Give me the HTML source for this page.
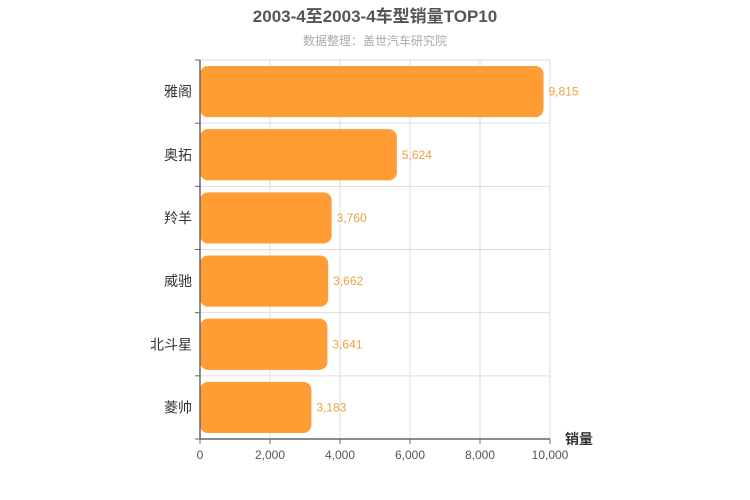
<!DOCTYPE html>
<html><head><meta charset="utf-8"><style>
body{margin:0;background:#fff;}
svg{display:block;font-family:"Liberation Sans","Noto Sans CJK SC",sans-serif;}
</style></head><body>
<svg id="chart" width="750" height="500">
<text x="375" y="22" text-anchor="middle" font-size="17" font-weight="bold" fill="#555">2003-4至2003-4车型销量TOP10</text>
<text x="375" y="45" text-anchor="middle" font-size="12" fill="#aaa">数据整理：盖世汽车研究院</text>
<g id="grid"></g><g id="bars"></g><g id="axes"></g>
</svg>
<script>
const categories=["雅阁","奥拓","羚羊","威驰","北斗星","菱帅"];
const values=[9815,5624,3760,3662,3641,3183];
const ticks=[0,2000,4000,6000,8000,10000];
const tickLabels=["0","2,000","4,000","6,000","8,000","10,000"];
const X0=200,X1=550,Y0=60,Y1=439,MAX=10000;
const ns="http://www.w3.org/2000/svg";
const xs=v=>X0+(X1-X0)*v/MAX;
const band=(Y1-Y0)/categories.length;
function mk(tag,attrs,parent,text){const e=document.createElementNS(ns,tag);for(const k in attrs)e.setAttribute(k,attrs[k]);if(text!==undefined)e.textContent=text;document.getElementById(parent).appendChild(e);return e;}
ticks.forEach((t,i)=>{
  const g=mk("line",{x1:xs(t),x2:xs(t),y1:Y0,y2:Y1,stroke:"#ddd"},"grid");
  
  
  const tk=mk("line",{x1:xs(t),x2:xs(t),y1:Y1,y2:Y1+5,stroke:"#666"},"axes");
  
  
  const l=mk("text",{x:xs(t),y:Y1+20,"text-anchor":"middle","font-size":12,fill:"#555"},"axes",tickLabels[i]);
  
  
});
for(let i=0;i<=categories.length;i++){
  const y=Y0+band*i;
  const g=mk("line",{x1:X0,x2:X1,y1:y,y2:y,stroke:"#ddd"},"grid");
  
  
  const tk=mk("line",{x1:X0-5,x2:X0,y1:y,y2:y,stroke:"#666"},"axes");
  
  
}
categories.forEach((c,i)=>{
  const y=Y0+band*i+6,h=band-12;
  const b=mk("rect",{x:X0,y:y,width:xs(values[i])-X0,height:h,rx:8,fill:"#ff9c33"},"bars");
  
  
  const v=mk("text",{x:xs(values[i])+5,y:y+h/2+4,"font-size":12,fill:"#f0a040"},"bars",values[i].toLocaleString("en-US"));
  
  
  const l=mk("text",{x:X0-8,y:y+h/2+5,"text-anchor":"end","font-size":14,fill:"#333"},"axes",c);
  
  
});
const ya=mk("line",{x1:X0,x2:X0,y1:Y0,y2:Y1,stroke:"#666","stroke-width":1.5},"axes");


const xa=mk("line",{x1:X0,x2:X1,y1:Y1,y2:Y1,stroke:"#666","stroke-width":1.5},"axes");


const xt=mk("text",{x:565,y:444,"font-size":14,"font-weight":"bold",fill:"#333"},"axes","销量");


</script>
</body></html>
